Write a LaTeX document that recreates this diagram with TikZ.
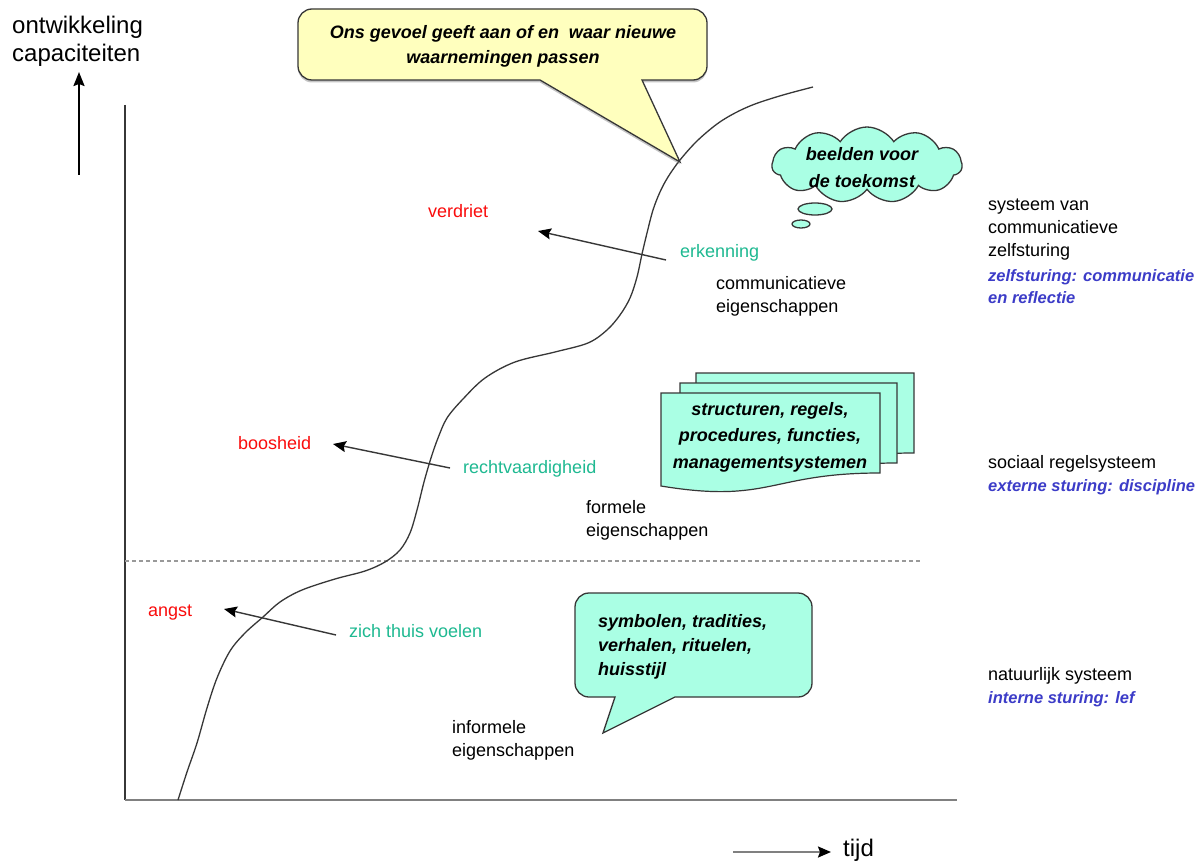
\documentclass[tikz,border=0pt]{standalone}
\usepackage{fontspec}
\setmainfont{Liberation Sans}
\usetikzlibrary{shapes.symbols,shadows,arrows.meta}

\definecolor{feelred}{RGB}{250,12,12}
\definecolor{valteal}{RGB}{30,185,145}
\definecolor{steerblue}{RGB}{60,60,200}
\definecolor{mint}{RGB}{170,255,228}
\definecolor{cream}{RGB}{255,255,190}
\definecolor{inkgray}{RGB}{55,55,55}

% invisible rule that fixes the height of a first text line
\newcommand\firstln{\rule{0pt}{0.85em}}

\begin{document}
\begin{tikzpicture}[x=1pt,y=-1pt,
  txt/.style={inner sep=0pt, font=\fontsize{18}{23}\selectfont},
  block/.style={txt, align=left, anchor=north west},
  feel/.style={txt, text=feelred, anchor=base west},
  value/.style={txt, text=valteal, anchor=base west},
  plain/.style={txt, anchor=base west},
  steer/.style={inner sep=0pt, text=steerblue, anchor=base west,
    font=\fontsize{16.5}{22}\selectfont\bfseries\itshape},
  say/.style={inner sep=0pt, font=\fontsize{18}{26}\selectfont\bfseries\itshape},
  pointer/.style={draw=inkgray, line width=1.4pt,
    -{Stealth[length=13pt,width=11pt,inset=2pt,color=black]}},
  balloon/.style={draw=inkgray, line width=1.3pt, fill=mint},
  sheet/.style={draw=inkgray, line width=1.2pt, fill=mint}
]
\useasboundingbox (0,0) rectangle (1202,861);
\fill[white] (0,0) rectangle (1202,861);

% ---- axes ----
\node[block, font=\fontsize{24}{28}\selectfont] (ylabel) at (12,12.6)
  {\firstln ontwikkeling\\capaciteiten};
\coordinate (ybase) at (79,175);
\coordinate (ytip) at (79,72);
\draw[line width=2pt, -{Stealth[length=14pt,width=11pt,inset=2pt]}] (ybase) -- (ytip);

\coordinate (origin) at (125,800);
\coordinate (ytop) at (125,105);
\coordinate (xend) at (957,800);
\draw[line width=2pt, inkgray] (ytop) -- (origin);
\draw[line width=2.5pt, gray] (origin) -- (xend);

\coordinate (dashl) at (125,561);
\coordinate (dashr) at (920,561);
\draw[gray!80, line width=1.3pt, dash pattern=on 4pt off 3pt] (dashl) -- (dashr);

\node[plain, font=\fontsize{24}{28}\selectfont] (tijd) at (843,856) {tijd};
\coordinate (tstart) at (733,852);
\draw[line width=2pt, gray, -{Stealth[length=13pt,width=11pt,inset=2pt,color=black]},
      shorten >=12pt]
  (tstart) -- (tstart -| tijd.west);

% ---- growth curve ----
\draw[inkgray, line width=1.3pt] plot[smooth, tension=0.55] coordinates {
 (178,800) (187,772) (197,743) (207,708) (217,678) (230,651) (245,633)
 (263,617) (280,602) (302,590) (335,579) (365,571) (385,562) (400,550)
 (410,533) (417,510) (424,482) (431,458) (438,438) (447,418) (463,399)
 (485,378) (515,362) (555,352) (588,343) (607,330) (620,315) (630,298)
 (637,277) (642,254) (647,233) (653,210) (660,192) (668,177) (680,160)
 (697,141) (717,124) (735,113) (755,104) (783,95) (813,87)};

% ---- top callout ----
\path[draw=inkgray, line width=1.3pt, fill=cream,
      drop shadow={shadow xshift=0pt, shadow yshift=-2.5pt, opacity=.45}]
  (312,9) -- (693,9) arc[start angle=-90, end angle=0, radius=14]
  -- (707,66) arc[start angle=0, end angle=90, radius=14]
  -- (642,80) -- (680,162) -- (540,80)
  -- (312,80) arc[start angle=90, end angle=180, radius=14]
  -- (298,23) arc[start angle=180, end angle=270, radius=14] -- cycle;
\node[say, align=center, anchor=north, font=\fontsize{18}{25}\selectfont\bfseries\itshape]
  (feeling) at (503,22.7)
  {\firstln Ons gevoel geeft aan of en \ waar nieuwe\\waarnemingen passen};

% ---- thought cloud ----
\node[cloud, balloon, cloud puffs=11, cloud puff arc=115, aspect=2.5,
      minimum width=190pt, minimum height=76pt, inner sep=0pt] (dream) at (867,165) {};
\draw[balloon] (815,209) ellipse[x radius=17, y radius=6];
\draw[balloon] (801,224) ellipse[x radius=9, y radius=4];
\node[say, align=center, anchor=north, font=\fontsize{18}{27}\selectfont\bfseries\itshape]
  (dreamtxt) at (862,144.7) {\firstln beelden voor\\de toekomst};

% ---- stacked documents ----
\path[sheet] (696,373) -- (914,373) -- (914,453)
  .. controls (805,453) and (805,484) .. (696,466) -- cycle;
\path[sheet] (680,383) -- (897,383) -- (897,463)
  .. controls (788,463) and (788,494) .. (680,476) -- cycle;
\path[sheet] (661,393) -- (880,393) -- (880,473)
  .. controls (770,473) and (770,504) .. (661,486) -- cycle;
\node[say, align=center, anchor=north, font=\fontsize{18}{26.5}\selectfont\bfseries\itshape]
  (rules) at (770,399.7)
  {\firstln structuren, regels,\\procedures, functies,\\managementsystemen};

% ---- speech bubble ----
\path[balloon]
  (589,593) -- (798,593) arc[start angle=-90, end angle=0, radius=14]
  -- (812,683) arc[start angle=0, end angle=90, radius=14]
  -- (675,697) -- (603,733) -- (615,697)
  -- (589,697) arc[start angle=90, end angle=180, radius=14]
  -- (575,607) arc[start angle=180, end angle=270, radius=14] -- cycle;
\node[say, align=left, anchor=north west, font=\fontsize{18}{24}\selectfont\bfseries\itshape]
  (symbols) at (598,611.7)
  {\firstln symbolen, tradities,\\verhalen, rituelen,\\huisstijl};

% ---- emotions and values ----
\node[feel] (verdriet) at (428,218) {verdriet};
\node[feel] (boosheid) at (238,449) {boosheid};
\node[feel] (angst) at (148,616) {angst};

\node[value] (erkenning) at (680,258) {erkenning};
\node[value] (recht) at (463,473) {rechtvaardigheid};
\node[value] (thuis) at (349,637) {zich thuis voelen};

\coordinate (p1s) at (666,260);
\coordinate (p1e) at (538,231);
\coordinate (p2s) at (450,468);
\coordinate (p2e) at (333,444);
\coordinate (p3s) at (336,635);
\coordinate (p3e) at (224,609);
\draw[pointer] (p1s) -- (p1e);
\draw[pointer] (p2s) -- (p2e);
\draw[pointer] (p3s) -- (p3e);

% ---- properties ----
\node[block] (commprops) at (716,273.7) {\firstln communicatieve\\eigenschappen};
\node[block] (formprops) at (586,497.7) {\firstln formele\\eigenschappen};
\node[block] (infprops) at (452,717.7) {\firstln informele\\eigenschappen};

% ---- systems column ----
\node[block] (sysc) at (988,194.7) {\firstln systeem van\\communicatieve\\zelfsturing};
\node[steer, anchor=north west, align=left] (steerc) at (988,267)
  {\firstln zelfsturing: communicatie\\en reflectie};
\node[plain] (syss) at (988,468) {sociaal regelsysteem};
\node[steer] (steers) at (988,491) {externe sturing: discipline};
\node[plain] (sysn) at (988,680) {natuurlijk systeem};
\node[steer] (steern) at (988,703) {interne sturing: lef};
\end{tikzpicture}
\end{document}
